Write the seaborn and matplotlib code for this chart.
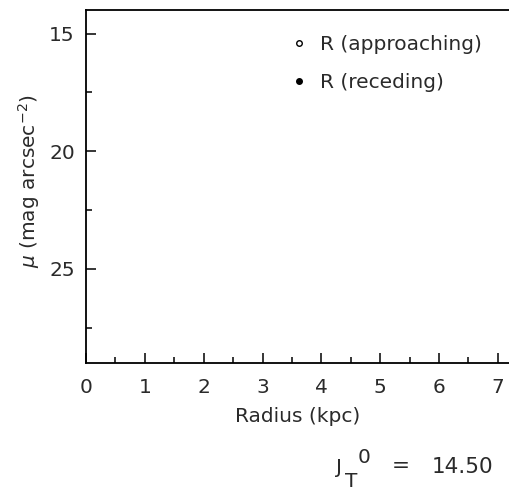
import matplotlib
matplotlib.use("Agg")
import matplotlib.pyplot as plt
from matplotlib.lines import Line2D
import seaborn as sns
import pandas as pd

# Surface-brightness profile along the major axis (no measured points in this panel)
radius_approaching = []
mu_approaching = []
radius_receding = []
mu_receding = []

series_labels = ["R (approaching)", "R (receding)"]
x_ticks = [0, 1, 2, 3, 4, 5, 6, 7]
y_ticks = [15, 20, 25]
jt0_value = 14.50

sns.set_theme(style="ticks")
plt.rcParams["font.family"] = ["DejaVu Sans"]
text_color = "#2a2a2a"
fs = 14.5

W, H = 509, 491
fig = plt.figure(figsize=(W / 100, H / 100), dpi=100)
ax = fig.add_axes([0.169, 0.2607, 0.831, 0.719])

df_app = pd.DataFrame({"r": radius_approaching, "mu": mu_approaching}, dtype=float)
df_rec = pd.DataFrame({"r": radius_receding, "mu": mu_receding}, dtype=float)
sns.scatterplot(data=df_app, x="r", y="mu", ax=ax, marker="o",
                facecolor="none", edgecolor="black", legend=False)
sns.scatterplot(data=df_rec, x="r", y="mu", ax=ax, marker="o",
                color="black", legend=False)

ax.set_xticks(x_ticks)
ax.set_xticks([v + 0.5 for v in x_ticks[:-1]], minor=True)
ax.set_yticks(y_ticks)
ax.set_yticks([17.5, 22.5, 27.5], minor=True)
ax.set_xlim(0, 7.19)
ax.set_ylim(29, 14)

for s in ["left", "bottom", "top"]:
    ax.spines[s].set_linewidth(1.3)
    ax.spines[s].set_color("black")
ax.spines["right"].set_visible(False)

ax.tick_params(which="major", direction="in", length=7, width=1.1,
               labelsize=fs, labelcolor=text_color, color="black")
ax.tick_params(which="minor", direction="in", length=4, width=1.1, color="black")
ax.tick_params(axis="x", pad=11)
ax.tick_params(axis="y", pad=8)

ax.set_xlabel("Radius (kpc)", fontsize=fs, color=text_color, labelpad=7)
ax.set_ylabel(r"$\mu$ (mag arcsec$^{-2}$)", fontsize=fs, color=text_color)
ax.yaxis.set_label_coords(-0.104, 0.516)

handles = [
    Line2D([], [], linestyle="none", marker="o", markersize=4,
           markerfacecolor="none", markeredgecolor="black", markeredgewidth=1),
    Line2D([], [], linestyle="none", marker="o", markersize=4,
           markerfacecolor="black", markeredgecolor="black"),
]
leg = ax.legend(handles, series_labels, loc="upper left",
                bbox_to_anchor=(293 / W, 1 - 35 / H),
                bbox_transform=fig.transFigure, frameon=False,
                fontsize=fs, handlelength=0.6, handletextpad=0.75,
                labelspacing=0.95, borderpad=0, borderaxespad=0)
for t in leg.get_texts():
    t.set_color(text_color)

# Total J-band magnitude, written with full-size sub/superscripts
def put(x_px, y_px, s, ha="left", va="baseline", size=fs):
    fig.text(x_px / W, 1 - y_px / H, s, ha=ha, va=va,
             fontsize=size, color=text_color)

put(336, 473, "J")
put(345, 487, "T")
put(358, 463, "0")
put(401, 466, "=", ha="center", va="center", size=15.5)
put(462, 473, f"{jt0_value:.2f}", ha="center", size=15.5)

fig.savefig("out.png", dpi=100)
